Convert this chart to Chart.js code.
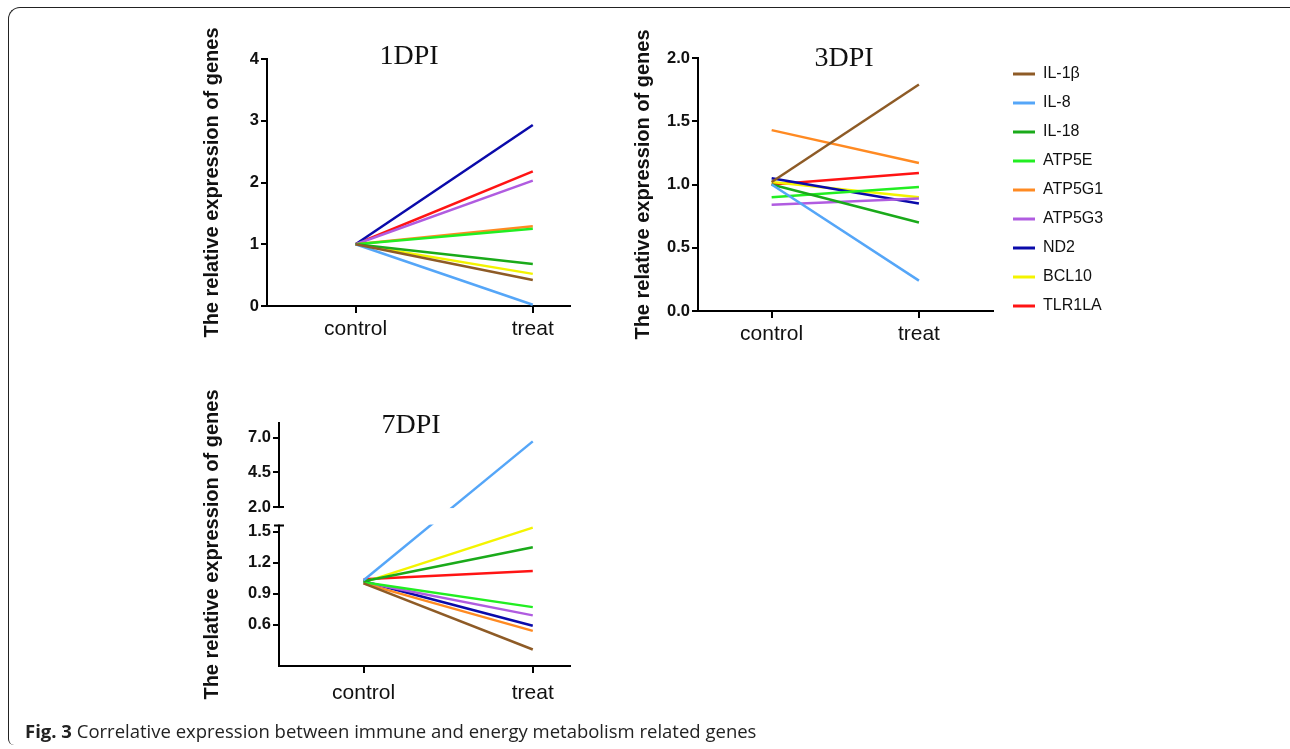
<!DOCTYPE html>
<html>
<head>
<meta charset="utf-8">
<title>Fig. 3 correlative expression</title>
<script src="https://cdn.jsdelivr.net/npm/chart.js"></script>
<style>
  html, body { margin: 0; padding: 0; background: #fff; }
  body { width: 1290px; height: 749px; position: relative; overflow: hidden; }
  #frame {
    position: absolute; left: 8px; top: 7px; width: 1300px; height: 737px;
    border-left: 1.5px solid #222; border-top: 1.5px solid #222;
    border-top-left-radius: 12px; border-bottom-left-radius: 6px;
  }
  canvas { position: absolute; }
  #c1 { left: 190px; top: 20px; }
  #c3 { left: 620px; top: 20px; }
  #c7 { left: 190px; top: 380px; }
  #caption {
    position: absolute; left: 25px; top: 718px;
    font-family: "Open Sans", sans-serif; font-size: 18.5px; color: #222; white-space: nowrap;
  }
  #caption b { font-weight: 700; }
</style>
</head>
<body>
<div id="frame"></div>
<canvas id="c1" width="390" height="335"></canvas>
<canvas id="c3" width="503" height="335"></canvas>
<canvas id="c7" width="390" height="345"></canvas>
<div id="caption"><b>Fig. 3</b> Correlative expression between immune and energy metabolism related genes</div>

<script>
// data
const genes = ['IL-1β', 'IL-8', 'IL-18', 'ATP5E', 'ATP5G1', 'ATP5G3', 'ND2', 'BCL10', 'TLR1LA'];
const geneColors = ['#8E5B26', '#55A6F8', '#1AAA1A', '#22EE22', '#FF8A22', '#B05CE0', '#0A0AAA', '#F4F400', '#FF1414'];
const conditions = ['control', 'treat'];

const dpi1Control = [1.00, 1.00, 1.00, 1.00, 1.00, 1.00, 1.00, 1.00, 1.00];
const dpi1Treat   = [0.42, 0.02, 0.68, 1.25, 1.29, 2.03, 2.93, 0.52, 2.18];

const dpi3Control = [1.02, 1.00, 1.00, 0.90, 1.43, 0.84, 1.05, 1.02, 1.00];
const dpi3Treat   = [1.79, 0.24, 0.70, 0.98, 1.17, 0.89, 0.85, 0.90, 1.09];

const dpi7Control = [1.00, 1.03, 1.02, 1.01, 1.00, 1.01, 1.02, 1.01, 1.04];
const dpi7Treat   = [0.36, 6.73, 1.35, 0.77, 0.54, 0.69, 0.59, 1.54, 1.12];

const ticks1 = [0, 1, 2, 3, 4];
const ticks3 = [0.0, 0.5, 1.0, 1.5, 2.0];
const ticks7 = [0.6, 0.9, 1.2, 1.5, 2.0, 4.5, 7.0];

// broken y axis of the 7DPI panel: lower part, gap, upper part
const brk = { lowMax: 1.56, highMin: 2.0, lowFrac: 0.578, gapFrac: 0.076 };

Chart.defaults.font.family = '"Liberation Sans", Arial, sans-serif';
Chart.defaults.color = '#111';

class BrokenAxis extends Chart.LinearScale {
  getPixelForValue(value) {
    let t;
    if (value <= brk.lowMax) {
      t = (value - this.min) / (brk.lowMax - this.min) * brk.lowFrac;
    } else if (value < brk.highMin) {
      t = brk.lowFrac + (value - brk.lowMax) / (brk.highMin - brk.lowMax) * brk.gapFrac;
    } else {
      t = brk.lowFrac + brk.gapFrac + (value - brk.highMin) / (this.max - brk.highMin) * (1 - brk.lowFrac - brk.gapFrac);
    }
    return this.getPixelForDecimal(t);
  }
}
BrokenAxis.id = 'brokenLinear';
BrokenAxis.defaults = Chart.LinearScale.defaults;
Chart.register(BrokenAxis);

function makeDatasets(ctrl, treat) {
  return genes.map((g, i) => ({
    label: g,
    data: [{ x: 0, y: ctrl[i] }, { x: 1, y: treat[i] }],
    borderColor: geneColors[i],
    backgroundColor: geneColors[i],
    borderWidth: 2.5,
    pointRadius: 0,
    pointHoverRadius: 0
  }));
}

// panel title drawn in serif like the original
const panelTitle = {
  id: 'panelTitle',
  afterDraw(chart, args, opts) {
    const ctx = chart.ctx;
    ctx.save();
    ctx.font = '28px "Liberation Serif", "Times New Roman", serif';
    ctx.fillStyle = '#111';
    ctx.textAlign = 'center';
    ctx.textBaseline = 'alphabetic';
    ctx.fillText(opts.text, opts.x, opts.y);
    ctx.restore();
  }
};

// white gap + caps for the broken axis
const axisBreak = {
  id: 'axisBreak',
  afterDatasetsDraw(chart) {
    const y = chart.scales.y;
    const ctx = chart.ctx;
    const area = chart.chartArea;
    const yHigh = y.getPixelForValue(brk.highMin);
    const yLow = y.getPixelForValue(brk.lowMax);
    ctx.save();
    ctx.fillStyle = '#fff';
    ctx.fillRect(area.left - 2, yHigh + 1, area.right - area.left + 4, yLow - yHigh - 2);
    ctx.strokeStyle = '#000';
    ctx.lineWidth = 2;
    ctx.beginPath();
    ctx.moveTo(area.left - 1, yHigh); ctx.lineTo(area.left + 5, yHigh);
    ctx.moveTo(area.left - 5, yLow); ctx.lineTo(area.left + 5, yLow);
    ctx.stroke();
    ctx.restore();
  }
};

function axisTitle(pad) {
  return {
    display: true,
    text: 'The relative expression of genes',
    font: { size: 20, weight: 'bold' },
    color: '#111',
    padding: { top: pad, bottom: 0 }
  };
}

function xScale(max, height, labelPad) {
  return {
    type: 'linear',
    min: -0.5,
    max: max,
    afterBuildTicks: s => { s.ticks = conditions.map((c, i) => ({ value: i })); },
    afterFit: s => { s.height = height; },
    ticks: {
      callback: v => conditions[v],
      font: { size: 21 },
      color: '#111',
      padding: labelPad,
      maxRotation: 0
    },
    grid: { drawOnChartArea: false, drawTicks: true, tickLength: 7, color: '#000', lineWidth: 2 },
    border: { display: true, color: '#000', width: 2 }
  };
}

function yScale(opts) {
  return Object.assign({
    afterFit: s => { s.width = opts.width; },
    afterBuildTicks: s => { s.ticks = opts.ticks.map(v => ({ value: v })); },
    ticks: {
      callback: opts.fmt,
      font: { size: 16.5, weight: 'bold' },
      color: '#111',
      padding: 2
    },
    grid: { drawOnChartArea: false, drawTicks: true, tickLength: 6, color: '#000', lineWidth: 2 },
    border: { display: true, color: '#000', width: 2 },
    title: axisTitle(opts.titlePad)
  }, opts.extra);
}

// ---- 1DPI
new Chart(document.getElementById('c1'), {
  type: 'line',
  data: { datasets: makeDatasets(dpi1Control, dpi1Treat) },
  options: {
    responsive: false,
    animation: false,
    events: [],
    layout: { padding: { top: 39, right: 10, left: 0, bottom: 0 } },
    scales: {
      x: xScale(1.21, 49, 4),
      y: yScale({ width: 77, ticks: ticks1, fmt: v => String(v), titlePad: 10,
                  extra: { type: 'linear', min: 0, max: 4 } })
    },
    plugins: {
      legend: { display: false },
      tooltip: { enabled: false },
      panelTitle: { text: '1DPI', x: 219, y: 44 }
    }
  },
  plugins: [panelTitle]
});

// ---- 3DPI (with the legend)
const legendPlace = {
  id: 'legendPlace',
  beforeInit(chart) {
    const fit = chart.legend.fit;
    chart.legend.fit = function () {
      fit.call(this);
      this.width = 130;
    };
  },
  afterLayout(chart, args, opts) {
    const lg = chart.legend;
    const w = lg.width, h = lg.height;
    lg.left = chart.chartArea.right + opts.dx;
    lg.right = lg.left + w;
    lg.top = opts.top;
    lg.bottom = lg.top + h;
  }
};

new Chart(document.getElementById('c3'), {
  type: 'line',
  data: { datasets: makeDatasets(dpi3Control, dpi3Treat) },
  options: {
    responsive: false,
    animation: false,
    events: [],
    layout: { padding: { top: 38, right: 0, left: 0, bottom: 0 } },
    scales: {
      x: xScale(1.503, 44, 4),
      y: yScale({ width: 78, ticks: ticks3, fmt: v => v.toFixed(1), titlePad: 11,
                  extra: { type: 'linear', min: 0, max: 2 } })
    },
    plugins: {
      legend: {
        display: true,
        position: 'right',
        align: 'start',
        labels: {
          boxWidth: 22,
          boxHeight: 3,
          padding: 13,
          color: '#111',
          font: { size: 16 },
          generateLabels: chart => Chart.defaults.plugins.legend.labels.generateLabels(chart)
            .map(it => Object.assign(it, { lineWidth: 0 }))
        }
      },
      legendPlace: { dx: 7, top: 33 },
      tooltip: { enabled: false },
      panelTitle: { text: '3DPI', x: 224, y: 46 }
    }
  },
  plugins: [panelTitle, legendPlace]
});

// ---- 7DPI (broken axis)
new Chart(document.getElementById('c7'), {
  type: 'line',
  data: { datasets: makeDatasets(dpi7Control, dpi7Treat) },
  options: {
    responsive: false,
    animation: false,
    events: [],
    layout: { padding: { top: 43, right: 10, left: 0, bottom: 0 } },
    scales: {
      x: xScale(1.22, 59, 8),
      y: yScale({ width: 89, ticks: ticks7, fmt: v => v.toFixed(1), titlePad: 10,
                  extra: { type: 'brokenLinear', min: 0.2, max: 8.05 } })
    },
    plugins: {
      legend: { display: false },
      tooltip: { enabled: false },
      panelTitle: { text: '7DPI', x: 221, y: 53 }
    }
  },
  plugins: [panelTitle, axisBreak]
});
</script>
</body>
</html>
